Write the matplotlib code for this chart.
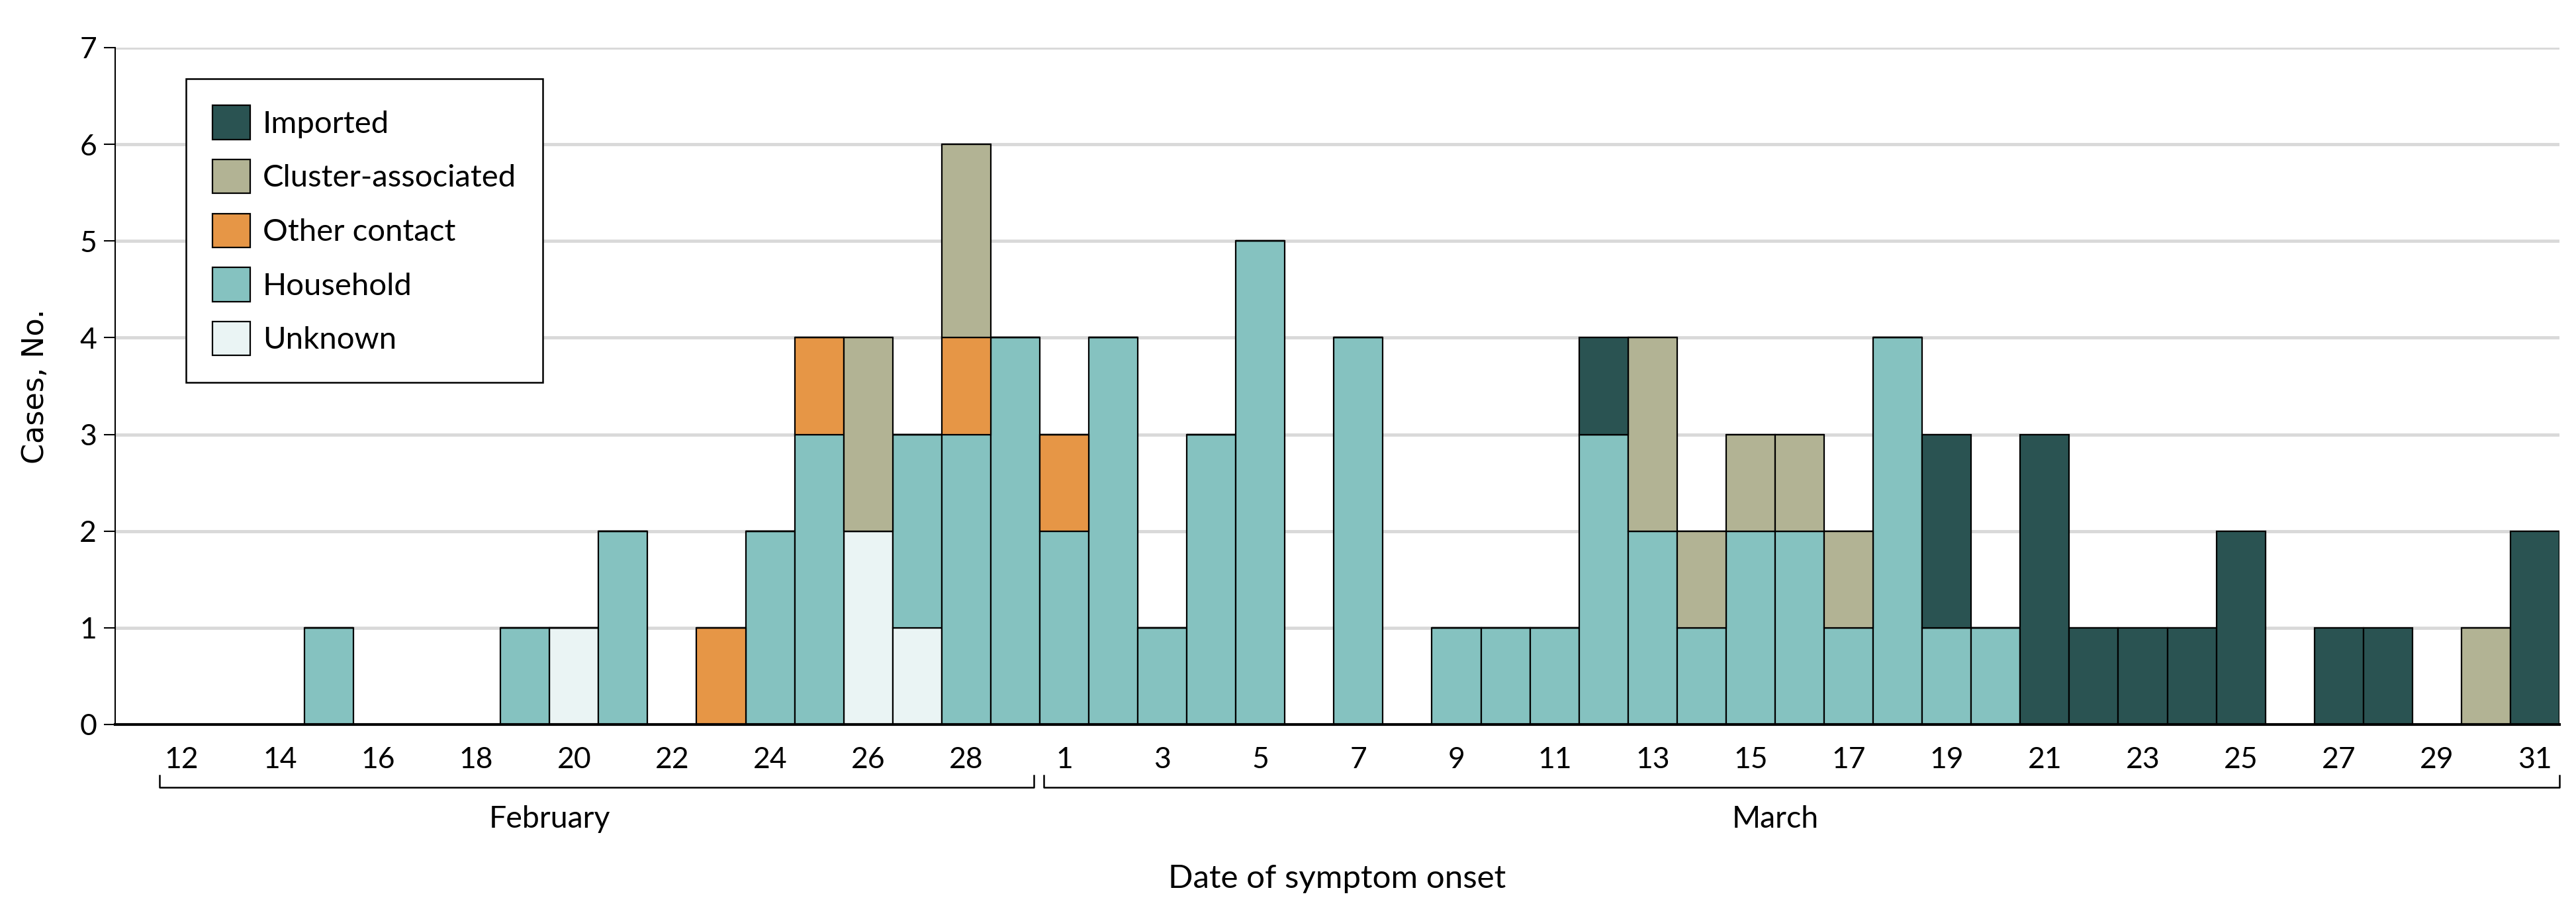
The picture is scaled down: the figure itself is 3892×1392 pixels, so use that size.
import numpy as np
import matplotlib
matplotlib.use("Agg")
import matplotlib.pyplot as plt
import matplotlib.transforms as mtransforms

plt.rcParams['font.family'] = ['Lato', 'DejaVu Sans']

# days of symptom onset
feb_days = list(range(12, 30))
mar_days = list(range(1, 32))

# counts per day, February 12-29 then March 1-31
unknown_feb = [0, 0, 0, 0, 0, 0, 0, 0, 1, 0, 0, 0, 0, 0, 2, 1, 0, 0]
unknown_mar = [0] * 31
household_feb = [0, 0, 0, 1, 0, 0, 0, 1, 0, 2, 0, 0, 2, 3, 0, 2, 3, 4]
household_mar = [2, 4, 1, 3, 5, 0, 4, 0, 1, 1, 1, 3, 2, 1, 2, 2, 1, 4, 1, 1,
                 0, 0, 0, 0, 0, 0, 0, 0, 0, 0, 0]
other_feb = [0, 0, 0, 0, 0, 0, 0, 0, 0, 0, 0, 1, 0, 1, 0, 0, 1, 0]
other_mar = [1] + [0] * 30
cluster_feb = [0, 0, 0, 0, 0, 0, 0, 0, 0, 0, 0, 0, 0, 0, 2, 0, 2, 0]
cluster_mar = [0, 0, 0, 0, 0, 0, 0, 0, 0, 0, 0, 0, 2, 1, 1, 1, 1, 0, 0, 0,
               0, 0, 0, 0, 0, 0, 0, 0, 0, 1, 0]
imported_feb = [0] * 18
imported_mar = [0, 0, 0, 0, 0, 0, 0, 0, 0, 0, 0, 1, 0, 0, 0, 0, 0, 0, 2, 0,
                3, 1, 1, 1, 2, 0, 1, 1, 0, 0, 2]

# stacking order bottom -> top
series = [
    ("Unknown", unknown_feb + unknown_mar, "#eaf4f4"),
    ("Household", household_feb + household_mar, "#85c2c0"),
    ("Other contact", other_feb + other_mar, "#e69646"),
    ("Cluster-associated", cluster_feb + cluster_mar, "#b2b394"),
    ("Imported", imported_feb + imported_mar, "#2a5352"),
]

days = feb_days + mar_days
x = np.arange(len(days))
n_feb = len(feb_days)

fig = plt.figure(figsize=(38.92, 13.92), dpi=100)
ax = fig.add_axes([0.0447, 0.2134, 0.9489, 0.7349])

bottom = np.zeros(len(days))
handles = {}
for name, vals, col in series:
    vals = np.array(vals)
    b = ax.bar(x, vals, bottom=bottom, width=1.0, color=col,
               edgecolor="black", linewidth=1.6, zorder=3)
    handles[name] = b
    bottom += vals

ax.set_xlim(-1.36, len(days) - 0.5)
ax.set_ylim(0, 7)
ax.set_yticks(range(0, 8))
ax.yaxis.grid(True, color="#d9d9d9", linewidth=3.5, zorder=0)
ax.set_axisbelow(True)

for s in ["top", "right"]:
    ax.spines[s].set_visible(False)
ax.spines["left"].set_linewidth(1.5)
ax.spines["bottom"].set_linewidth(3)
ax.spines["bottom"].set_zorder(5)

tick_pos = x[::2]
ax.set_xticks(tick_pos)
ax.set_xticklabels([str(days[i]) for i in tick_pos])
ax.tick_params(axis="x", length=0, pad=24, labelsize=32)
ax.tick_params(axis="y", length=12, width=1.5, pad=8, labelsize=32)

# month brackets
trans = mtransforms.blended_transform_factory(ax.transData, ax.transAxes)
yb, yt = -0.093, -0.075
for x0, x1 in [(-0.45, n_feb - 0.62), (n_feb - 0.42, len(days) - 0.5)]:
    ax.plot([x0, x0, x1, x1], [yt, yb, yb, yt], color="black", lw=1.8,
            transform=trans, clip_on=False)
ax.text(7.5, -0.14, "February", transform=trans, ha="center", va="center", fontsize=33.5)
ax.text(32.5, -0.14, "March", transform=trans, ha="center", va="center", fontsize=33.5)

ax.text(0.5, -0.228, "Date of symptom onset", transform=ax.transAxes,
        ha="center", va="center", fontsize=35.5)
ax.text(-0.0325, 0.5, "Cases, No.", transform=ax.transAxes, rotation=90,
        ha="center", va="center", fontsize=32, family="DejaVu Sans")

order = ["Imported", "Cluster-associated", "Other contact", "Household", "Unknown"]
leg = ax.legend([handles[k] for k in order], order, loc="upper left",
                bbox_to_anchor=(0.029, 0.954), fontsize=34, frameon=True,
                fancybox=False, framealpha=1, edgecolor="black",
                handlelength=1.2, handleheight=1.3, labelspacing=0.64,
                handletextpad=0.4, borderpad=0.85, borderaxespad=0)
leg.get_frame().set_linewidth(1.8)
leg.set_zorder(6)

fig.savefig("out.png", dpi=100)
